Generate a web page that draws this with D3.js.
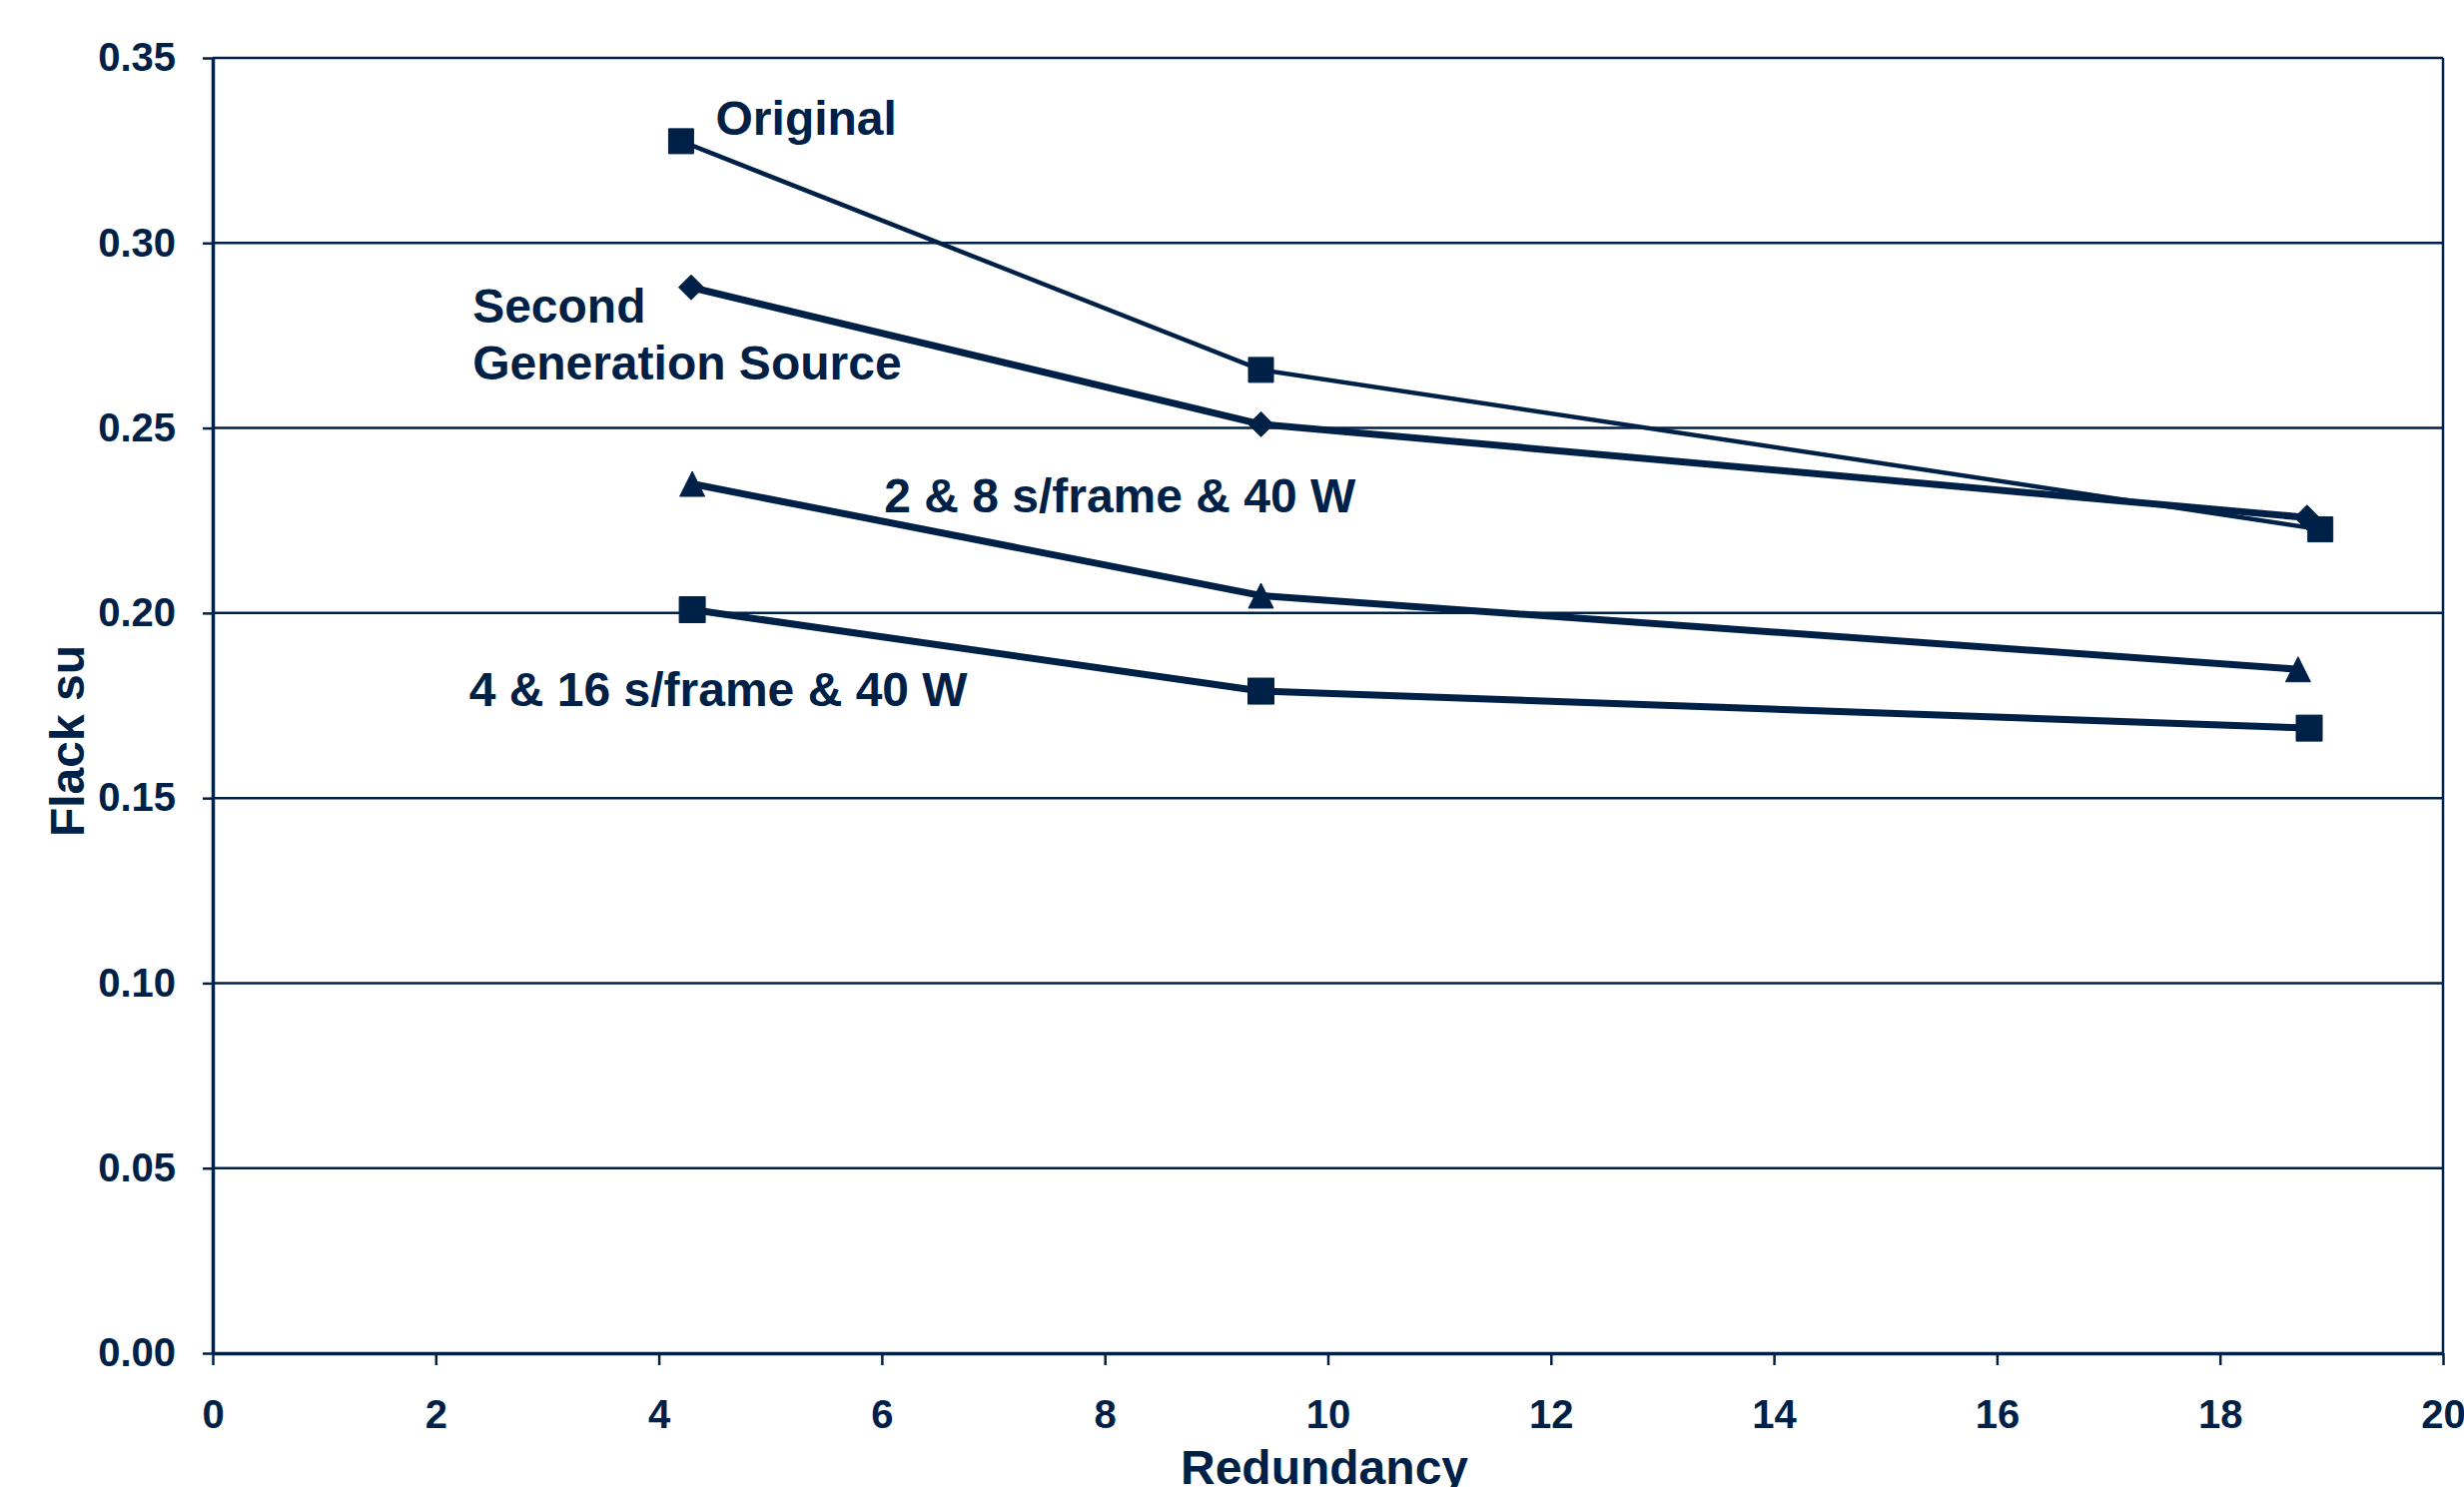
<!DOCTYPE html>
<html>
<head>
<meta charset="utf-8">
<script src="https://cdn.jsdelivr.net/npm/d3@7"></script>
<style>
  html, body { margin: 0; padding: 0; background: #fff; }
  svg { display: block; }
  text { font-family: "Liberation Sans", Arial, sans-serif; font-weight: bold; fill: #002147; }
</style>
</head>
<body>
<svg id="chart" width="2467" height="1489"></svg>
<script>
// ---- data ----
const xTicks = [0, 2, 4, 6, 8, 10, 12, 14, 16, 18, 20];
const yTicks = [0.00, 0.05, 0.10, 0.15, 0.20, 0.25, 0.30, 0.35];

const originalX = [4.2, 9.4, 18.9];
const originalY = [0.3275, 0.2657, 0.2226];

const secondGenX = [4.29, 9.4, 18.78];
const secondGenY = [0.288, 0.251, 0.2258];

const twoEightX = [4.3, 9.4, 18.7];
const twoEightY = [0.2349, 0.2047, 0.1848];

const fourSixteenX = [4.3, 9.4, 18.8];
const fourSixteenY = [0.2009, 0.1789, 0.1689];

const labelTexts = [["Original"], ["Second", "Generation Source"], ["2 & 8 s/frame & 40 W"], ["4 & 16 s/frame & 40 W"]];
const labelX = [4.51, 2.33, 6.02, 2.30];
const labelY = [0.3292, 0.2785, 0.2272, 0.1749];

const xTitle = "Redundancy";
const yTitle = "Flack su";

// ---- layout ----
const color = "#002147";
const svg = d3.select("#chart");
const x = d3.scaleLinear().domain([0, 20]).range([213, 2446]);
const y = d3.scaleLinear().domain([0, 0.35]).range([1355, 58]);

// gridlines
svg.append("g").selectAll("line").data(yTicks.filter(d => d > 0)).join("line")
  .attr("x1", x(0)).attr("x2", x(20))
  .attr("y1", d => y(d)).attr("y2", d => y(d))
  .attr("stroke", color).attr("stroke-width", 2.5);

// right border
svg.append("line").attr("x1", x(20)).attr("x2", x(20)).attr("y1", y(0.35)).attr("y2", y(0))
  .attr("stroke", color).attr("stroke-width", 2.5);

// axes
const yAxis = svg.append("g").attr("transform", `translate(${x(0)},0)`)
  .call(d3.axisLeft(y).tickValues(yTicks).tickFormat(d3.format(".2f")).tickSize(10).tickSizeOuter(0).tickPadding(27));
const xAxis = svg.append("g").attr("transform", `translate(0,${y(0)})`)
  .call(d3.axisBottom(x).tickValues(xTicks).tickFormat(d3.format("d")).tickSize(12).tickSizeOuter(0).tickPadding(35));

[yAxis, xAxis].forEach(g => {
  g.select(".domain").attr("stroke", color).attr("stroke-width", 3.5);
  g.selectAll(".tick line").attr("stroke", color).attr("stroke-width", 2.5);
  g.selectAll(".tick text").attr("fill", color)
    .style("font-family", '"Liberation Sans", Arial, sans-serif')
    .style("font-weight", "bold").style("font-size", "40px");
});

// axis titles
svg.append("text").attr("x", 1326).attr("y", 1486).attr("text-anchor", "middle")
  .style("font-size", "48px").text(xTitle);
svg.append("text").attr("transform", "translate(84,742) rotate(-90)").attr("text-anchor", "middle")
  .style("font-size", "48px").text(yTitle);

// marker shapes (centered in bounding box like the original)
const square = s => `M${-s/2},${-s/2}h${s}v${s}h${-s}Z`;
const diamond = s => `M0,${-s/2}L${s/2},0L0,${s/2}L${-s/2},0Z`;
const triangle = s => `M0,${-s/2}L${s/2},${s/2}L${-s/2},${s/2}Z`;

const series = [
  { xs: originalX, ys: originalY, width: 4.5, marker: square, size: 25 },
  { xs: secondGenX, ys: secondGenY, width: 7, marker: diamond, size: 25 },
  { xs: twoEightX, ys: twoEightY, width: 7, marker: triangle, size: 25 },
  { xs: fourSixteenX, ys: fourSixteenY, width: 7, marker: square, size: 26 }
];

const line = d3.line().x(d => x(d[0])).y(d => y(d[1]));

series.forEach(s => {
  const pts = s.xs.map((v, i) => [v, s.ys[i]]);
  svg.append("path").attr("d", line(pts)).attr("fill", "none")
    .attr("stroke", color).attr("stroke-width", s.width).attr("stroke-linejoin", "round");
  svg.append("g").selectAll("path").data(pts).join("path")
    .attr("transform", d => `translate(${x(d[0])},${y(d[1])})`)
    .attr("d", s.marker(s.size)).attr("fill", color)
    .attr("stroke", color).attr("stroke-width", 1).attr("stroke-linejoin", "round");
});

// annotations
labelTexts.forEach((lines, i) => {
  const t = svg.append("text").attr("x", x(labelX[i])).attr("y", y(labelY[i])).style("font-size", "48px");
  lines.forEach((ln, j) => {
    t.append("tspan").attr("x", x(labelX[i])).attr("dy", j === 0 ? 0 : 57).text(ln);
  });
});
</script>
</body>
</html>
